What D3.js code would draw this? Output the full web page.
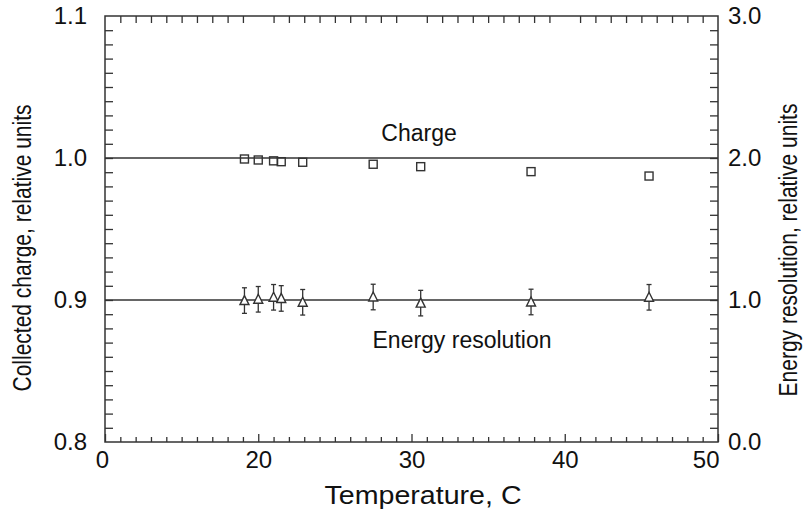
<!DOCTYPE html>
<html>
<head>
<meta charset="utf-8">
<script src="https://cdn.jsdelivr.net/npm/d3@7"></script>
<style>
  body { margin: 0; background: #fff; }
  svg text { font-family: "Liberation Sans", Arial, sans-serif; fill: #111; }
</style>
</head>
<body>
<div id="graph"></div>
<script>
// temperatures (C)
const temperature = [19.1, 20.0, 21.0, 21.5, 22.9, 27.5, 30.6, 37.8, 45.5];
// collected charge, relative units (left axis)
const charge = [0.9993, 0.9986, 0.998, 0.9974, 0.997, 0.9956, 0.9939, 0.9904, 0.9873];
// energy resolution, relative units (right axis)
const resolution = [0.996, 1.005, 1.019, 1.011, 0.984, 1.021, 0.978, 0.986, 1.019];
const resolutionErr = [0.09, 0.09, 0.09, 0.09, 0.09, 0.09, 0.09, 0.09, 0.09];

const chargeRef = [1.0];
const resolutionRef = [1.0];

const xTickValues = [10, 20, 30, 40, 50];
const xTickLabels = ["0", "20", "30", "40", "50"];
const yLeftTicks = [0.8, 0.9, 1.0, 1.1];
const yRightTicks = [0.0, 1.0, 2.0, 3.0];

function Chart() {
  const width = 804;
  const height = 510;
  const config = { left: 105, right: 718, top: 16, bottom: 442 };
  const ink = "#333";

  const svg = d3
    .select("#graph")
    .append("svg")
    .attr("width", width)
    .attr("height", height);

  const x = d3.scaleLinear().domain([10, 50]).range([config.left, config.right]);
  const yLeft = d3.scaleLinear().domain([0.8, 1.1]).range([config.bottom, config.top]);
  const yRight = d3.scaleLinear().domain([0, 3]).range([config.bottom, config.top]);

  const xMinor = d3.range(11, 50).filter((d) => d % 10 !== 0);
  const yLeftMinor = d3.range(1, 30).map((i) => +(0.8 + i * 0.01).toFixed(2));
  const yRightMinor = d3.range(1, 30).map((i) => +(i * 0.1).toFixed(1));

  // bottom axis: minor ticks, then major ticks with labels
  svg
    .append("g")
    .attr("class", "x-minor")
    .attr("transform", `translate(0,${config.bottom})`)
    .call(d3.axisBottom(x).tickValues(xMinor).tickSize(-5).tickFormat(""));

  svg
    .append("g")
    .attr("class", "x-major")
    .attr("transform", `translate(0,${config.bottom})`)
    .call(
      d3
        .axisBottom(x)
        .tickValues(xTickValues)
        .tickSize(-8)
        .tickPadding(9)
        .tickFormat((d, i) => xTickLabels[i])
    );

  // top axis ticks
  svg
    .append("g")
    .attr("class", "x-top")
    .attr("transform", `translate(0,${config.top})`)
    .call(d3.axisTop(x).tickValues(xMinor).tickSize(-7).tickFormat(""));

  // left axis
  svg
    .append("g")
    .attr("class", "y-left-minor")
    .attr("transform", `translate(${config.left},0)`)
    .call(d3.axisLeft(yLeft).tickValues(yLeftMinor).tickSize(-8).tickFormat(""));

  svg
    .append("g")
    .attr("class", "y-left-major")
    .attr("transform", `translate(${config.left},0)`)
    .call(
      d3
        .axisLeft(yLeft)
        .tickValues(yLeftTicks)
        .tickSize(0)
        .tickPadding(18)
        .tickFormat(d3.format(".1f"))
    );

  // right axis
  svg
    .append("g")
    .attr("class", "y-right-minor")
    .attr("transform", `translate(${config.right},0)`)
    .call(d3.axisRight(yRight).tickValues(yRightMinor).tickSize(-8).tickFormat(""));

  svg
    .append("g")
    .attr("class", "y-right-major")
    .attr("transform", `translate(${config.right},0)`)
    .call(
      d3
        .axisRight(yRight)
        .tickValues(yRightTicks)
        .tickSize(0)
        .tickPadding(10)
        .tickFormat(d3.format(".1f"))
    );

  svg.selectAll(".domain").remove();
  svg.selectAll(".tick line").attr("stroke", ink).attr("stroke-width", 1.3);
  svg
    .selectAll(".tick text")
    .attr("fill", "#111")
    .style("font-size", "24px")
    .style("font-family", '"Liberation Sans", Arial, sans-serif');

  // last x label sits flush with the right edge, first one slightly left
  svg.selectAll(".x-major .tick text")
    .attr("text-anchor", (d) => (d === 50 ? "end" : "middle"))
    .attr("dx", (d) => (d === 10 ? -3 : d === 50 ? 1 : 0));

  // frame
  svg
    .append("rect")
    .attr("x", config.left)
    .attr("y", config.top)
    .attr("width", config.right - config.left)
    .attr("height", config.bottom - config.top)
    .attr("fill", "none")
    .attr("stroke", ink)
    .attr("stroke-width", 1.5);

  // reference lines
  svg
    .selectAll(".charge-ref")
    .data(chargeRef)
    .enter()
    .append("line")
    .attr("class", "charge-ref")
    .attr("x1", config.left)
    .attr("x2", config.right)
    .attr("y1", (d) => yLeft(d))
    .attr("y2", (d) => yLeft(d))
    .attr("stroke", ink)
    .attr("stroke-width", 1.6);

  svg
    .selectAll(".res-ref")
    .data(resolutionRef)
    .enter()
    .append("line")
    .attr("class", "res-ref")
    .attr("x1", config.left)
    .attr("x2", config.right)
    .attr("y1", (d) => yRight(d))
    .attr("y2", (d) => yRight(d))
    .attr("stroke", ink)
    .attr("stroke-width", 1.6);

  // charge squares
  const chargeData = temperature.map((t, i) => ({ t: t, v: charge[i] }));
  svg
    .selectAll(".charge-pt")
    .data(chargeData)
    .enter()
    .append("rect")
    .attr("class", "charge-pt")
    .attr("x", (d) => x(d.t) - 4)
    .attr("y", (d) => yLeft(d.v) - 4)
    .attr("width", 8)
    .attr("height", 8)
    .attr("fill", "none")
    .attr("stroke", ink)
    .attr("stroke-width", 1.4);

  // energy resolution triangles with error bars
  const resData = temperature.map((t, i) => ({
    t: t,
    v: resolution[i],
    e: resolutionErr[i],
  }));

  const resGroups = svg
    .selectAll(".res-pt")
    .data(resData)
    .enter()
    .append("g")
    .attr("class", "res-pt");

  resGroups
    .append("line")
    .attr("x1", (d) => x(d.t))
    .attr("x2", (d) => x(d.t))
    .attr("y1", (d) => yRight(d.v - d.e))
    .attr("y2", (d) => yRight(d.v + d.e))
    .attr("stroke", ink)
    .attr("stroke-width", 1.3);

  resGroups
    .selectAll(".cap")
    .data((d) => [d.v - d.e, d.v + d.e].map((v) => ({ t: d.t, v: v })))
    .enter()
    .append("line")
    .attr("class", "cap")
    .attr("x1", (d) => x(d.t) - 2.5)
    .attr("x2", (d) => x(d.t) + 2.5)
    .attr("y1", (d) => yRight(d.v))
    .attr("y2", (d) => yRight(d.v))
    .attr("stroke", ink)
    .attr("stroke-width", 1.3);

  resGroups
    .append("path")
    .attr("d", (d) => {
      const cx = x(d.t);
      const cy = yRight(d.v);
      return `M${cx},${cy - 5} L${cx + 4.5},${cy + 4} L${cx - 4.5},${cy + 4} Z`;
    })
    .attr("fill", "#fff")
    .attr("stroke", ink)
    .attr("stroke-width", 1.4);

  // annotations
  svg
    .append("text")
    .attr("x", 419)
    .attr("y", 141)
    .attr("text-anchor", "middle")
    .style("font-size", "23px")
    .text("Charge");

  svg
    .append("text")
    .attr("x", 462)
    .attr("y", 348)
    .attr("text-anchor", "middle")
    .style("font-size", "23px")
    .text("Energy resolution");

  // axis titles
  svg
    .append("text")
    .attr("transform", `translate(423,504) scale(1.1,1)`)
    .attr("text-anchor", "middle")
    .style("font-size", "26px")
    .text("Temperature, C");

  svg
    .append("text")
    .attr("transform", `translate(31,248) scale(1.2,1) rotate(-90)`)
    .attr("text-anchor", "middle")
    .style("font-size", "21px")
    .text("Collected charge, relative units");

  svg
    .append("text")
    .attr("transform", `translate(797,250) scale(1.2,1) rotate(-90)`)
    .attr("text-anchor", "middle")
    .style("font-size", "21px")
    .text("Energy resolution, relative units");
}

Chart();
</script>
</body>
</html>
